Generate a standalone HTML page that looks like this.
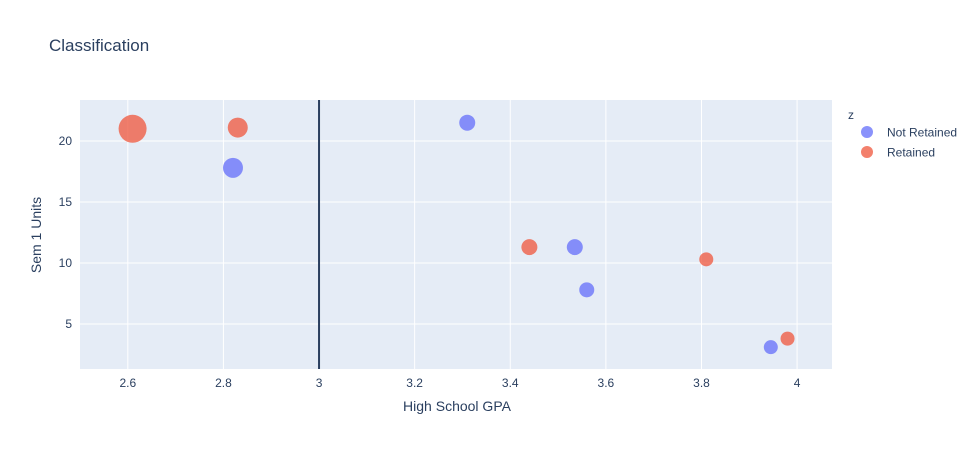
<!DOCTYPE html>
<html><head><meta charset="utf-8"><style>
body{margin:0;background:#fff;font-family:"Liberation Sans",sans-serif}
text{font-family:"Liberation Sans",sans-serif}
</style></head><body>
<svg id="c" width="979" height="450">
<rect width="979" height="450" fill="#fff"/>
<text x="49" y="51" font-size="17" fill="#2a3f5f">Classification</text>
<rect x="80" y="100" width="752" height="269" fill="#e5ecf6"/>
<g id="grid"></g>
<g id="marks"></g>
<text x="457" y="411" font-size="14" fill="#2a3f5f" text-anchor="middle">High School GPA</text>
<text x="0" y="0" font-size="14" fill="#2a3f5f" text-anchor="middle" transform="translate(41,235) rotate(-90)">Sem 1 Units</text>
<text x="848" y="119" font-size="12" fill="#2a3f5f">z</text>
<g><circle cx="867" cy="132" r="6" fill="#636efa" opacity="0.75"/><text x="887" y="136.5" font-size="12" fill="#2a3f5f">Not Retained</text></g>
<g><circle cx="867" cy="152" r="6" fill="#ef553b" opacity="0.75"/><text x="887" y="156.5" font-size="12" fill="#2a3f5f">Retained</text></g>
</svg>
<script>
const xTicks=[2.6,2.8,3,3.2,3.4,3.6,3.8,4];
const xTickLabels=["2.6","2.8","3","3.2","3.4","3.6","3.8","4"];
const yTicks=[5,10,15,20];
const notRetainedX=[2.82,3.31,3.535,3.56,3.945];
const notRetainedY=[17.8,21.5,11.3,7.8,3.1];
const notRetainedSize=[10,8,8,7.5,7];
const retainedX=[2.61,2.83,3.44,3.81,3.98];
const retainedY=[21.0,21.1,11.3,10.3,3.8];
const retainedSize=[14,10,8,7,7];
const thresholdX=3;
const X0=80,X1=832,Y0=369,Y1=100,xmin=2.5,xmax=4.073,ymin=1.31,ymax=23.36;
const sx=v=>X0+(v-xmin)/(xmax-xmin)*(X1-X0);
const sy=v=>Y0-(v-ymin)/(ymax-ymin)*(Y0-Y1);
const NS="http://www.w3.org/2000/svg";
const g=document.getElementById('grid'),m=document.getElementById('marks');
function mk(tag,attrs,parent){const e=document.createElementNS(NS,tag);for(const k in attrs)e.setAttribute(k,attrs[k]);parent.appendChild(e);return e;}
xTicks.forEach((v,i)=>{
 const l=mk('line',{x1:sx(v),x2:sx(v),y1:Y1,y2:Y0,stroke:'#fff','stroke-width':1},g);
 
 
 const t=mk('text',{x:sx(v),y:387,'font-size':12,fill:'#2a3f5f','text-anchor':'middle'},g);
 t.textContent=xTickLabels[i];
 
 
});
yTicks.forEach(v=>{
 const l=mk('line',{x1:X0,x2:X1,y1:sy(v),y2:sy(v),stroke:'#fff','stroke-width':1},g);
 
 
 const t=mk('text',{x:72,y:sy(v)+4,'font-size':12,fill:'#2a3f5f','text-anchor':'end'},g);
 t.textContent=String(v);
 
 
});
const vl=mk('line',{x1:sx(thresholdX),x2:sx(thresholdX),y1:Y1,y2:Y0,stroke:'#2a3f5f','stroke-width':2},m);


function pts(xs,ys,ss,col,name){xs.forEach((x,i)=>{
 const c=mk('circle',{cx:sx(x),cy:sy(ys[i]),r:ss[i],fill:col,opacity:0.75},m);
 
 
});}
pts(notRetainedX,notRetainedY,notRetainedSize,'#636efa','point-not-retained');
pts(retainedX,retainedY,retainedSize,'#ef553b','point-retained');
</script>
</body></html>
